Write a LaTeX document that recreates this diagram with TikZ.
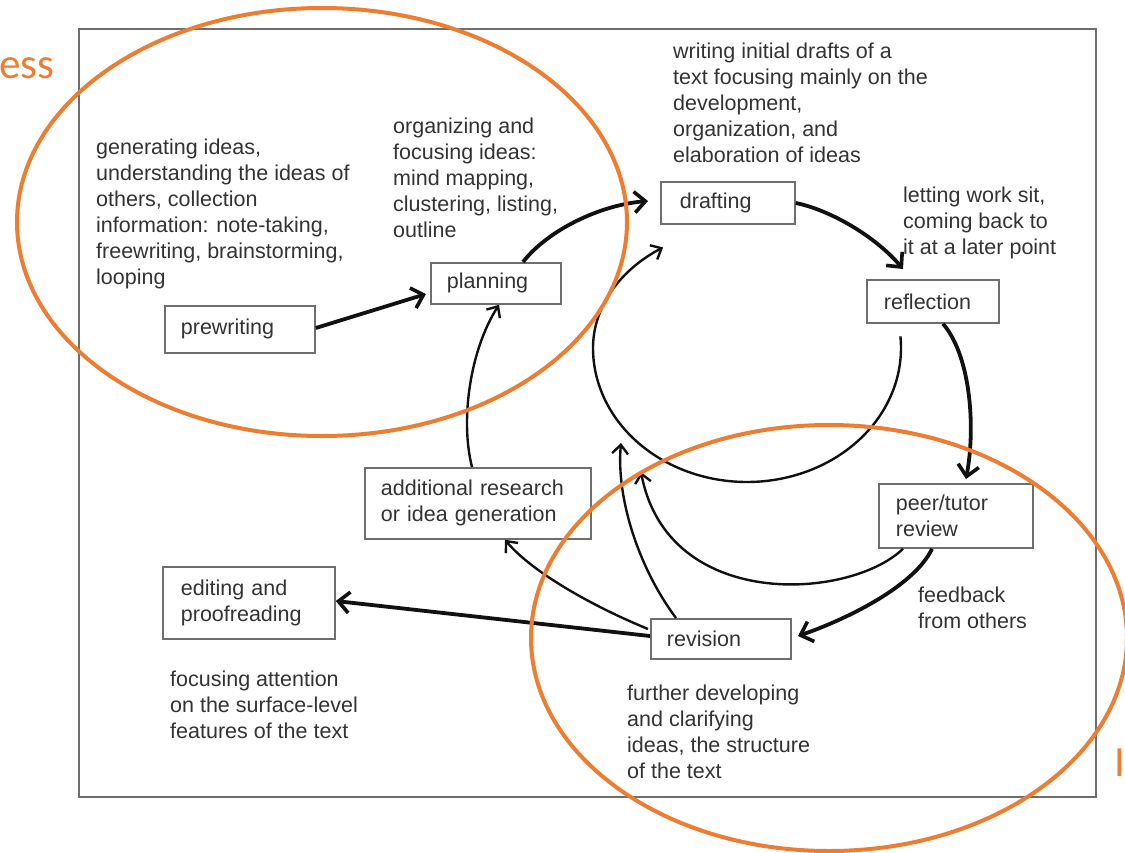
\documentclass[tikz,border=0pt]{standalone}
\usepackage{fontspec}
\setmainfont{Liberation Sans}
\newfontfamily\orfont{Carlito}
\usetikzlibrary{arrows.meta}
\definecolor{orng}{HTML}{ED7D31}
\definecolor{txt}{HTML}{333333}
\definecolor{frm}{HTML}{6E6E6E}
\definecolor{ln}{HTML}{111111}
\begin{document}
\begin{tikzpicture}[x=1pt,y=-1pt,
  box/.style={draw=frm, line width=1.8, anchor=north west, inner xsep=16, inner ysep=0, align=left,
    font=\fontsize{21.5}{26}\selectfont, text=txt},
  lbl/.style={anchor=north west, inner sep=0, align=left, font=\fontsize{21.5}{26}\selectfont, text=txt},
  thickarrow/.style={draw=ln, line width=3.8, -{Straight Barb[length=11,width=21,line width=3.6]}},
  thinarrow/.style={draw=ln, line width=2.4, -{Straight Barb[length=9,width=16,line width=2.4]}},
  oval/.style={draw=orng, line width=4},
  orange text/.style={anchor=base west, inner sep=0, text=orng, font=\orfont\fontsize{43}{43}\selectfont}]
\path[use as bounding box] (0,0) rectangle (1125,852);
\clip (0,0) rectangle (1125,852);
\fill[white] (0,0) rectangle (1125,852);
% frame
\draw[frm, line width=2] (79,29) rectangle (1096,797);
% boxes
\node[box, text width=118, minimum height=47] (pre) at (164,305) {prewriting};
\node[box, text width=98, minimum height=41] (plan) at (430,262) {planning};
\node[box, text width=96, minimum height=42, inner xsep=19] (draft) at (660,181) {drafting};
\node[box, text width=98, minimum height=43, inner xsep=17] (refl) at (866,279) {reflection};
\node[box, text width=120, minimum height=64, inner xsep=17] (peer) at (878,483) {peer/tutor\\review};
\node[box, text width=108, minimum height=40] (rev) at (650,618) {revision};
\node[box, text width=194, minimum height=71] (add) at (364,467) {additional research\\or idea generation};
\node[box, text width=136, minimum height=72, inner xsep=18] (edit) at (162,566) {editing and\\proofreading};
% labels
\node[lbl] (l1) at (96,139) {generating ideas,\\understanding the ideas of\\others, collection\\information: note-taking,\\freewriting, brainstorming,\\looping};
\node[lbl] (l2) at (393,118) {organizing and\\focusing ideas:\\mind mapping,\\clustering, listing,\\outline};
\node[lbl] (l3) at (673,43) {writing initial drafts of a\\text focusing mainly on the\\development,\\organization, and\\elaboration of ideas};
\node[lbl] (l4) at (903,187) {letting work sit,\\coming back to\\it at a later point};
\node[lbl] (l5) at (918,587) {feedback\\from others};
\node[lbl] (l6) at (627,685) {further developing\\and clarifying\\ideas, the structure\\of the text};
\node[lbl] (l7) at (170,671) {focusing attention\\on the surface-level\\features of the text};
% named free ends
\coordinate (loopS) at (898,335);
\coordinate (tipA) at (621,443);
\coordinate (tipB) at (641,472);
% thick connectors
\draw[thickarrow] (pre.east |- 0,328) -- (426,294);
\draw[thickarrow] (plan.north -| 523,0) .. controls (548,230) and (600,205) .. (648,201);
\draw[thickarrow] (draft.east |- 0,203) .. controls (830,210) and (875,236) .. (903,269);
\draw[thickarrow] (refl.south -| 943,0) .. controls (970,355) and (976,425) .. (966,479);
\draw[thickarrow] (peer.south -| 932,0) .. controls (915,585) and (850,618) .. (798,636);
\draw[thickarrow] (rev.west |- 0,636) -- (edit.east |- 0,601);
% thin connectors
\draw[thinarrow] (648,629) .. controls (592,606) and (532,572) .. (add.south -| 505,0);
\draw[thinarrow] (rev.north -| 676,0) .. controls (640,570) and (616,500) .. (tipA);
\draw[thinarrow] (peer.south -| 903,0) .. controls (850,600) and (668,612) .. (tipB);
\draw[thinarrow] (add.north -| 472,0) .. controls (460,420) and (470,350) .. (plan.south -| 499,0);
\draw[thinarrow] (loopS) plot[domain=-5:237, samples=100, smooth] ({747+154*cos(\x)},{348+(\x>180?120:134)*sin(\x)});
% orange ovals
\draw[oval] (322,222) ellipse[x radius=305, y radius=214];
\draw[oval] (829,638) ellipse[x radius=298, y radius=213];
\node[orange text] (ess) at (-1,78) {ess};
\node[orange text] (ii) at (1114,776) {I};
\end{tikzpicture}
\end{document}
